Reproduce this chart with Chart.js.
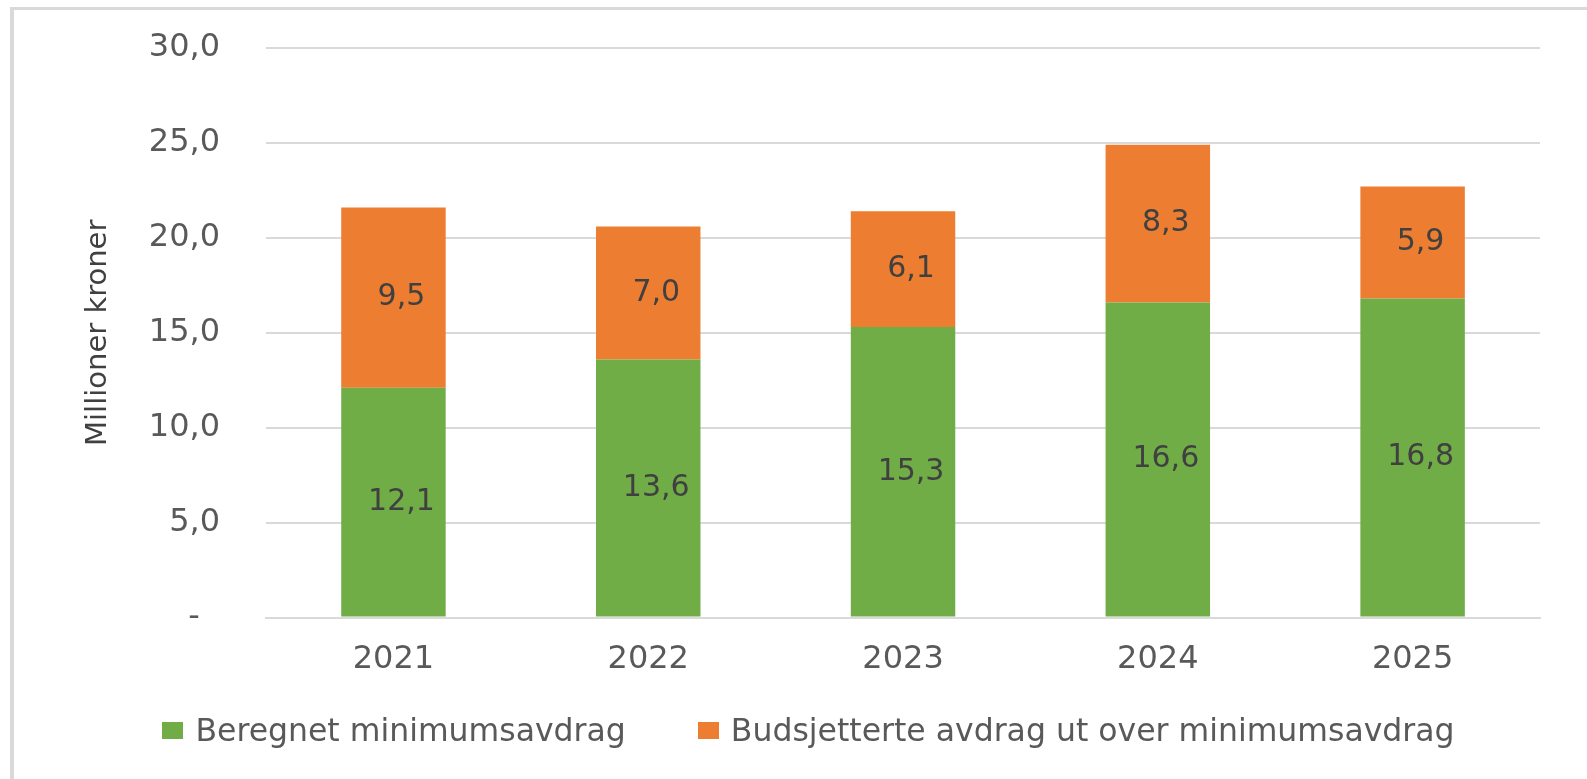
<!DOCTYPE html>
<html>
<head>
<meta charset="utf-8">
<script src="https://cdn.jsdelivr.net/npm/chart.js@4.4.1/dist/chart.umd.min.js"></script>
<style>
  html, body { margin: 0; padding: 0; background: #fff; }
  #wrap { position: relative; width: 1587px; height: 779px; overflow: hidden; }
  #frame { position: absolute; left: 10px; top: 7px; width: 1600px; height: 800px;
           border-top: 3px solid #d9d9d9; border-left: 4px solid #d9d9d9; pointer-events: none; }
  #legend { position: absolute; left: 0; width: 1587px; top: 712px; display: flex; justify-content: center;
            gap: 72px; font-family: "DejaVu Sans", sans-serif; font-size: 31.5px; color: #595959; padding-left: 30px; box-sizing: border-box; }
  .item { display: flex; align-items: center; white-space: nowrap; }
  .box { width: 21px; height: 17px; margin-right: 12px; }
</style>
</head>
<body>
<div id="wrap">
  <canvas id="chart" width="1587" height="779"></canvas>
  <div id="frame"></div>
  <div id="legend"></div>
</div>
<script>
// data
const years = ["2021", "2022", "2023", "2024", "2025"];
const minimum = [12.1, 13.6, 15.3, 16.6, 16.8];
const extra = [9.5, 7.0, 6.1, 8.3, 5.9];
const seriesNames = ["Beregnet minimumsavdrag", "Budsjetterte avdrag ut over minimumsavdrag"];
const seriesColors = ["#70ad47", "#ed7d31"];

const fontFamily = "'DejaVu Sans', sans-serif";

function fmt(v) {
  return v.toFixed(1).replace(".", ",");
}

// value labels in the middle of each bar segment
const barLabels = {
  id: "barLabels",
  afterDatasetsDraw(chart) {
    const ctx = chart.ctx;
    ctx.save();
    ctx.font = "30px " + fontFamily;
    ctx.fillStyle = "#404040";
    ctx.textAlign = "center";
    ctx.textBaseline = "middle";
    chart.data.datasets.forEach((ds, i) => {
      chart.getDatasetMeta(i).data.forEach((bar, j) => {
        ctx.fillText(fmt(ds.data[j]), bar.x + 8, (bar.y + bar.base) / 2);
      });
    });
    ctx.restore();
  }
};

const ctx = document.getElementById("chart").getContext("2d");

const chart = new Chart(ctx, {
  type: "bar",
  data: {
    labels: years,
    datasets: [
      { label: seriesNames[0], data: minimum, backgroundColor: seriesColors[0] },
      { label: seriesNames[1], data: extra, backgroundColor: seriesColors[1] }
    ]
  },
  options: {
    responsive: false,
    animation: false,
    layout: { padding: { left: 62, right: 47, top: 48, bottom: 77 } },
    datasets: { bar: { barPercentage: 0.41, categoryPercentage: 1.0 } },
    plugins: {
      legend: { display: false },
      tooltip: { enabled: false }
    },
    scales: {
      x: {
        stacked: true,
        grid: { display: false, drawTicks: false },
        border: { display: true, color: "#d9d9d9", width: 2 },
        ticks: { color: "#595959", font: { family: fontFamily, size: 32 }, padding: 23 }
      },
      y: {
        stacked: true,
        min: 0,
        max: 30,
        // invisible tick marks keep the labels away from the plot
        grid: { color: "#d9d9d9", lineWidth: 2, drawTicks: true, tickLength: 36, tickColor: "rgba(0,0,0,0)" },
        border: { display: false },
        ticks: {
          stepSize: 5,
          padding: 10,
          color: "#595959",
          font: { family: fontFamily, size: 32 },
          callback: v => v === 0 ? "-  " : fmt(v)
        },
        title: {
          display: true,
          text: "Millioner kroner",
          color: "#404040",
          font: { family: fontFamily, size: 29 },
          padding: { top: 19, bottom: 23 }
        }
      }
    }
  },
  plugins: [barLabels]
});

// legend as html
const legend = document.getElementById("legend");
chart.data.datasets.forEach(ds => {
  const item = document.createElement("div");
  item.className = "item";
  const box = document.createElement("span");
  box.className = "box";
  box.style.background = ds.backgroundColor;
  const txt = document.createElement("span");
  txt.textContent = ds.label;
  item.appendChild(box);
  item.appendChild(txt);
  legend.appendChild(item);
});
</script>
</body>
</html>
